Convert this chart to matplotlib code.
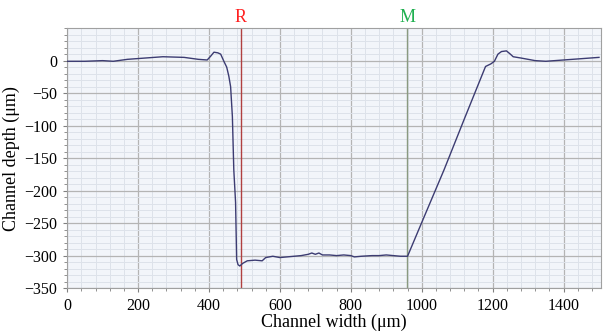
import matplotlib
matplotlib.use('Agg')
import matplotlib.pyplot as plt
from matplotlib.ticker import MultipleLocator

plt.rcParams['font.family'] = ['Liberation Serif', 'DejaVu Serif']

# profile
width = [0, 50, 100, 130, 170, 220, 270, 330, 370, 395, 405, 414, 425, 433, 442,
         450, 456, 461, 466, 470, 475, 478, 482, 487, 495, 508, 530, 550, 560, 580,
         600, 620, 640, 660, 680, 690, 700, 710, 720, 740, 760, 780, 800, 810, 830,
         860, 880, 900, 920, 940, 960, 1004, 1063, 1120, 1180, 1195, 1205, 1215, 1225,
         1239, 1250, 1258, 1280, 1320, 1350, 1400, 1450, 1500]
depth = [-1, -1, 0, -1, 2, 4, 6, 5, 2, 1, 7, 13, 12, 10, -1,
         -10, -24, -40, -86, -168, -218, -306, -314, -316, -312, -308, -307, -308, -303, -301,
         -303, -302, -301, -300, -298, -296, -298, -296, -299, -299, -300, -299, -300, -302, -301,
         -300, -300, -299, -300, -301, -301, -244, -168, -90, -9, -5, -1, 10, 14,
         15, 10, 6, 4, 0, -1, 1, 3, 5]

markers = ['R', 'M']
marker_x = [489, 959]
marker_colors = ['#ff2020', '#20b050']
marker_line_colors = ['#b04040', '#8a9a80']

fig = plt.figure(figsize=(6.05, 3.35), dpi=100)
ax = fig.add_axes([0.111, 0.140, 0.882, 0.776])
ax.set_facecolor('#f2f5fa')

ax.plot(width, depth, color='#3c3c72', lw=1.0, zorder=3)

for name, xv, tc, lc in zip(markers, marker_x, marker_colors, marker_line_colors):
    ax.axvline(xv, color=lc, lw=1.0, zorder=2)
    ax.text(xv, 54, name, color=tc, ha='center', va='bottom', fontsize=13)

ax.set_xlim(0, 1505)
ax.set_ylim(-350, 50)
ax.xaxis.set_major_locator(MultipleLocator(200))
ax.xaxis.set_minor_locator(MultipleLocator(40))
ax.yaxis.set_major_locator(MultipleLocator(50))
ax.yaxis.set_minor_locator(MultipleLocator(10))
ax.set_yticks([0, -50, -100, -150, -200, -250, -300, -350])
ax.grid(which='major', color='#b4b4b4', lw=0.9)
ax.grid(which='minor', color='#dde2ea', lw=0.7)
ax.set_axisbelow(True)

for s in ax.spines.values():
    s.set_color('#a0a0a0')
ax.tick_params(which='both', colors='#808080', labelcolor='black', labelsize=11.5)
ax.tick_params(which='major', length=3, pad=4)
ax.tick_params(which='minor', length=2)

ax.set_xlabel('Channel width (\u03bcm)', fontsize=13, labelpad=0)
ax.set_ylabel('Channel depth (\u03bcm)', fontsize=13, labelpad=3)

fig.savefig('out.png', dpi=100)
